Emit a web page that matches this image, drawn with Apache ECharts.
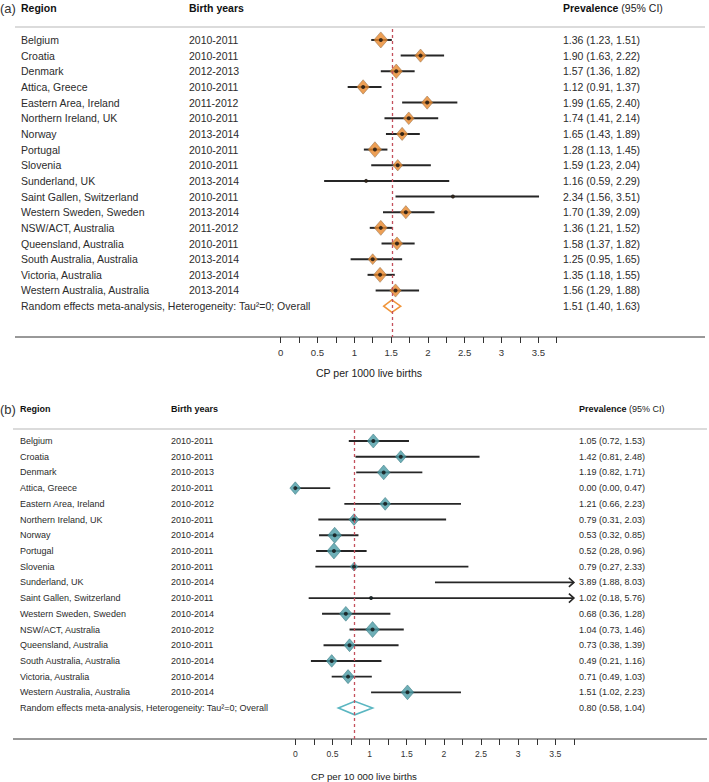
<!DOCTYPE html>
<html><head><meta charset="utf-8">
<script src="https://cdn.jsdelivr.net/npm/echarts@6/dist/echarts.min.js"></script>
<style>html,body{margin:0;padding:0;background:#fff}#c{width:709px;height:782px}</style>
</head><body><div id="c"></div>
<script>
// ---------- DATA ----------
const regions = ['Belgium','Croatia','Denmark','Attica, Greece','Eastern Area, Ireland','Northern Ireland, UK','Norway','Portugal','Slovenia','Sunderland, UK','Saint Gallen, Switzerland','Western Sweden, Sweden','NSW/ACT, Australia','Queensland, Australia','South Australia, Australia','Victoria, Australia','Western Australia, Australia'];
const overallLabel = 'Random effects meta-analysis, Heterogeneity: Tau\u00b2=0; Overall';

// Panel (a): CP per 1000 live births
const yearsA = ['2010-2011','2010-2011','2012-2013','2010-2011','2011-2012','2010-2011','2013-2014','2010-2011','2010-2011','2013-2014','2010-2011','2013-2014','2011-2012','2010-2011','2013-2014','2013-2014','2013-2014'];
const estA  = [1.36,1.90,1.57,1.12,1.99,1.74,1.65,1.28,1.59,1.16,2.34,1.70,1.36,1.58,1.25,1.35,1.56];
const lowA  = [1.23,1.63,1.36,0.91,1.65,1.41,1.43,1.13,1.23,0.59,1.56,1.39,1.21,1.37,0.95,1.18,1.29];
const highA = [1.51,2.22,1.82,1.37,2.40,2.14,1.89,1.45,2.04,2.29,3.51,2.09,1.52,1.82,1.65,1.55,1.88];
const weightA = [20,13.4,16,16,13.4,12.3,13.4,18.8,10,0.8,0.8,13.4,17.4,13.4,9,17.4,13.4];
const overallA = [1.51,1.40,1.63];

// Panel (b): CP per 10 000 live births
const yearsB = ['2010-2011','2010-2011','2010-2013','2010-2011','2010-2012','2010-2011','2010-2014','2010-2011','2010-2011','2010-2014','2010-2011','2010-2014','2010-2012','2010-2011','2010-2014','2010-2014','2010-2014'];
const estB  = [1.05,1.42,1.19,0.00,1.21,0.79,0.53,0.52,0.79,3.89,1.02,0.68,1.04,0.73,0.49,0.71,1.51];
const lowB  = [0.72,0.81,0.82,0.00,0.66,0.31,0.32,0.28,0.27,1.88,0.18,0.36,0.73,0.38,0.21,0.49,1.02];
const highB = [1.53,2.48,1.71,0.47,2.23,2.03,0.85,0.96,2.33,8.03,5.76,1.28,1.46,1.39,1.16,1.03,2.23];
const weightB = [15.2,11.8,16.8,12.3,12.7,10.5,19.7,19.7,5.9,0.8,0.8,16.8,19.7,12.7,12.3,15.2,16.8];
const overallB = [0.80,0.58,1.04];

const xTickLabels = ['0','0.5','1','1.5','2','2.5','3','3.5'];
const xMax = 3.75;
const axisTitleA = 'CP per 1000 live births';
const axisTitleB = 'CP per 10 000 live births';

// ---------- CHART ----------
const FONT = '"Liberation Sans", Arial, Helvetica, sans-serif';
const chart = echarts.init(document.getElementById('c'), null, {renderer:'svg'});
const fmt = v => v.toFixed(2);
const ciText = (e,l,h) => fmt(e)+' ('+fmt(l)+', '+fmt(h)+')';

function panel(gi, cfg) {
  const n = regions.length;
  const series = [];
  series.push({
    type:'custom', xAxisIndex:gi, yAxisIndex:gi, clip:false, z:2,
    data: regions.map((r,i)=>[cfg.low[i], cfg.high[i], i]),
    encode:{x:[0,1], y:2},
    renderItem:(params, api)=>{
      const y = api.value(2);
      const a = api.coord([api.value(0), y]);
      const hi = api.value(1);
      const b = api.coord([Math.min(hi, xMax), y]);
      const ch = [{type:'line', shape:{x1:a[0],y1:a[1],x2:b[0],y2:b[1]}, style:{stroke:'#262626', lineWidth:cfg.lw}}];
      if (hi > xMax) ch.push({type:'polyline', shape:{points:[[b[0]-5,b[1]-4.5],[b[0],b[1]],[b[0]-5,b[1]+4.5]]}, style:{stroke:'#262626', lineWidth:1.6, fill:null}});
      return {type:'group', children:ch};
    }
  });
  series.push({
    type:'scatter', xAxisIndex:gi, yAxisIndex:gi, clip:false, z:3, symbol:'diamond',
    data: regions.map((r,i)=> cfg.est[i] > xMax ? '-' : {value:[cfg.est[i], i], symbolSize:[3.1*Math.sqrt(cfg.w[i]), 3.6*Math.sqrt(cfg.w[i])]}),
    itemStyle:{color:cfg.fill, borderColor:cfg.border, borderWidth:0.6}, silent:true
  });
  series.push({
    type:'scatter', xAxisIndex:gi, yAxisIndex:gi, clip:false, z:4, symbol:'circle', symbolSize:4,
    data: regions.map((r,i)=> cfg.est[i] > xMax ? '-' : [cfg.est[i], i]),
    itemStyle:{color:'#111'}, silent:true,
    markLine:{silent:true, symbol:['none','none'], label:{show:false},
      lineStyle:{color:'#c4505c', type:[3,3], width:1.3},
      data:[{xAxis:cfg.overall[0]}]}
  });
  series.push({
    type:'custom', xAxisIndex:gi, yAxisIndex:gi, clip:false, z:3,
    data:[[cfg.overall[1], cfg.overall[0], cfg.overall[2], n]],
    encode:{x:[0,1,2], y:3},
    renderItem:(params, api)=>{
      const y = api.value(3);
      const l = api.coord([api.value(0), y]), m = api.coord([api.value(1), y]), h = api.coord([api.value(2), y]);
      const hh = cfg.dh;
      return {type:'polygon', shape:{points:[[l[0],l[1]],[m[0],m[1]-hh],[h[0],h[1]],[m[0],m[1]+hh]]},
        style:{fill:'#fff', stroke:cfg.ostroke, lineWidth:1.6}};
    }
  });
  const rowsR = regions.concat([overallLabel]);
  const rowsY = cfg.years.concat(['']);
  const rowsV = regions.map((r,i)=>ciText(cfg.est[i],cfg.low[i],cfg.high[i])).concat([ciText(cfg.overall[0],cfg.overall[1],cfg.overall[2])]);
  series.push({
    type:'custom', xAxisIndex:gi, yAxisIndex:gi, clip:false, z:5, silent:true,
    data: rowsR.map((r,i)=>[0,i]),
    encode:{x:0, y:1},
    renderItem:(params, api)=>{
      const i = params.dataIndex;
      const y = api.coord([0, api.value(1)])[1];
      const st = (t)=>({text:t, fill:'#2b2b2b', font:cfg.fs+'px '+FONT, textAlign:'left', align:'left', textVerticalAlign:'middle', verticalAlign:'middle'});
      return {type:'group', children:[
        {type:'text', x:cfg.xr, y:y, style:st(rowsR[i])},
        {type:'text', x:cfg.xy, y:y, style:st(rowsY[i])},
        {type:'text', x:cfg.xv, y:y, style:st(rowsV[i])}
      ]};
    }
  });
  return series;
}

const cfgA = {est:estA, low:lowA, high:highA, w:weightA, years:yearsA, overall:overallA,
  fill:'#e8872b', border:'#8a6a4a', ostroke:'#f0953a', dh:6.2, lw:2, fs:10.5, xr:21, xy:189, xv:563};
const cfgB = {est:estB, low:lowB, high:highB, w:weightB, years:yearsB, overall:overallB,
  fill:'#4a9ba5', border:'#2f6f78', ostroke:'#5ab6c1', dh:6.8, lw:1.9, fs:9, xr:20, xy:171, xv:579};

function xAxisCfg(gi, fs){
  return {gridIndex:gi, type:'value', position:'bottom', min:0, max:xMax, interval:0.25,
    axisLine:{show:false, onZero:false}, splitLine:{show:false},
    axisTick:{show:true, length:6, lineStyle:{color:'#333', width:1}},
    axisLabel:{margin:10, color:'#333', fontSize:fs, fontFamily:FONT,
      formatter:(v)=>{ const k = Math.round(v*2); return (Math.abs(v*2-k)<1e-6 && k>=0 && k<xTickLabels.length) ? xTickLabels[k] : ''; }}};
}
function yAxisCfg(gi){
  return {gridIndex:gi, type:'value', inverse:true, min:-0.7, max:18.97, show:false, axisLine:{onZero:false}};
}

const hdr = (x,y,t,fs,bold,extra)=>({type:'text', x:x, y:y, silent:true, style:Object.assign({text:t, fill:'#111', font:(bold?'bold ':'')+fs+'px '+FONT, textVerticalAlign:'middle', verticalAlign:'middle'}, extra||{})});
const hline = (x1,x2,y,color,w)=>({type:'line', silent:true, shape:{x1:x1,y1:y,x2:x2,y2:y}, style:{stroke:color, lineWidth:w}});

chart.setOption({
  animation:false,
  backgroundColor:'#fff',
  grid:[
    {left:280.7, top:29, width:276, height:308},
    {left:295.3, top:430, width:278.6, height:309}
  ],
  xAxis:[xAxisCfg(0, 9.6), xAxisCfg(1, 8.6)],
  yAxis:[yAxisCfg(0), yAxisCfg(1)],
  series: panel(0, cfgA).concat(panel(1, cfgB)),
  graphic:[
    hdr(0,8,'(a)',13,false,{fill:'#333'}),
    hdr(21,8,'Region',10.5,true),
    hdr(189,8,'Birth years',10.5,true),
    {type:'text', x:563, y:8, silent:true, style:{text:'{b|Prevalence} (95% CI)', rich:{b:{fontWeight:'bold', fontSize:10.5, fontFamily:FONT, fill:'#111'}}, font:'10.5px '+FONT, fill:'#222', textVerticalAlign:'middle', verticalAlign:'middle'}},
    hline(15,705,27,'#cfcfcf',1.5),
    hline(15,705,337,'#333',1),
    {type:'text', x:316, y:373, silent:true, style:{text:axisTitleA, font:'10.5px '+FONT, fill:'#222', textVerticalAlign:'middle', verticalAlign:'middle'}},

    hdr(0,409,'(b)',13,false,{fill:'#333'}),
    hdr(20,409,'Region',9,true),
    hdr(171,409,'Birth years',9,true),
    {type:'text', x:579, y:409, silent:true, style:{text:'{b|Prevalence} (95% CI)', rich:{b:{fontWeight:'bold', fontSize:9, fontFamily:FONT, fill:'#111'}}, font:'9px '+FONT, fill:'#222', textVerticalAlign:'middle', verticalAlign:'middle'}},
    hline(13,707,429,'#cfcfcf',1.5),
    hline(13,707,739,'#333',1),
    {type:'text', x:311, y:776, silent:true, style:{text:axisTitleB, font:'9.7px '+FONT, fill:'#222', textVerticalAlign:'middle', verticalAlign:'middle'}}
  ]
});
</script></body></html>
